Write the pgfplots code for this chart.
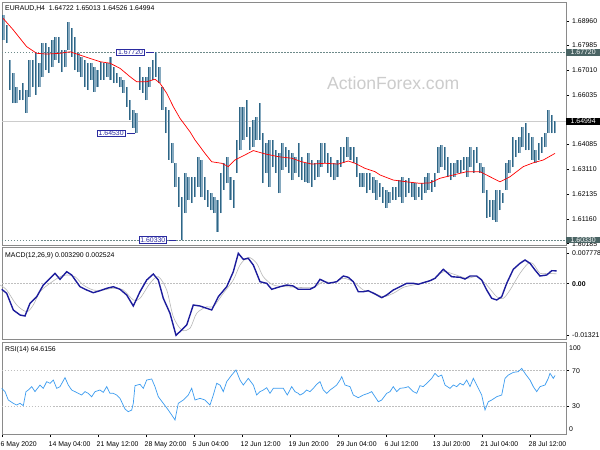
\documentclass[border=0pt]{standalone}
\usepackage{pgfplots}
\pgfplotsset{compat=1.18}
\usepackage{pgfplotstable}
\usepackage{fontspec}
\setmainfont{Liberation Sans}
\definecolor{cdark}{HTML}{2E6585}
\definecolor{clight}{HTML}{86A9BF}
\definecolor{lvl}{HTML}{6E8A8A}
\definecolor{lblbox}{HTML}{4A6464}
\definecolor{annot}{HTML}{2B2BA0}
\definecolor{macdc}{HTML}{1C1C9C}
\definecolor{rsic}{HTML}{3C9CF0}
\definecolor{frame}{HTML}{8A8A8A}
\newcommand{\sm}{\fontsize{6.9}{7.5}\selectfont}

\pgfplotstableread{
hi lo
1.6919 1.6820
1.6880 1.6809
1.6742 1.6624
1.6691 1.6572
1.6635 1.6572
1.6624 1.6584
1.6651 1.6584
1.6624 1.6533
1.6742 1.6596
1.6742 1.6635
1.6773 1.6604
1.6730 1.6635
1.6809 1.6675
1.6809 1.6702
1.6793 1.6691
1.6820 1.6714
1.6832 1.6742
1.6832 1.6730
1.6781 1.6694
1.6781 1.6714
1.6891 1.6781
1.6868 1.6754
1.6832 1.6702
1.6769 1.6694
1.6754 1.6675
1.6742 1.6635
1.6730 1.6624
1.6730 1.6663
1.6714 1.6616
1.6702 1.6635
1.6734 1.6663
1.6730 1.6663
1.6730 1.6675
1.6754 1.6663
1.6714 1.6651
1.6691 1.6651
1.6675 1.6635
1.6663 1.6612
1.6635 1.6557
1.6584 1.6506
1.6545 1.6474
1.6533 1.6453
1.6714 1.6624
1.6675 1.6612
1.6675 1.6584
1.6714 1.6635
1.6742 1.6663
1.6772 1.6675
1.6714 1.6651
1.6635 1.6545
1.6557 1.6454
1.6545 1.6348
1.6415 1.6336
1.6336 1.6242
1.6281 1.6163
1.6202 1.6033
1.6297 1.6139
1.6281 1.6191
1.6281 1.6179
1.6281 1.6202
1.6360 1.6242
1.6348 1.6202
1.6281 1.6191
1.6230 1.6163
1.6218 1.6151
1.6202 1.6139
1.6191 1.6065
1.6297 1.6139
1.6336 1.6230
1.6360 1.6257
1.6281 1.6191
1.6269 1.6159
1.6427 1.6297
1.6557 1.6387
1.6557 1.6427
1.6584 1.6439
1.6478 1.6387
1.6506 1.6399
1.6517 1.6427
1.6572 1.6427
1.6454 1.6257
1.6415 1.6297
1.6427 1.6242
1.6427 1.6320
1.6387 1.6297
1.6376 1.6218
1.6415 1.6309
1.6399 1.6320
1.6387 1.6297
1.6376 1.6269
1.6360 1.6297
1.6415 1.6281
1.6360 1.6269
1.6336 1.6261
1.6376 1.6257
1.6348 1.6242
1.6336 1.6269
1.6348 1.6281
1.6415 1.6320
1.6415 1.6336
1.6376 1.6297
1.6360 1.6281
1.6336 1.6269
1.6348 1.6281
1.6399 1.6320
1.6399 1.6336
1.6439 1.6360
1.6399 1.6348
1.6399 1.6336
1.6360 1.6281
1.6297 1.6242
1.6297 1.6242
1.6297 1.6218
1.6297 1.6230
1.6281 1.6218
1.6269 1.6191
1.6257 1.6202
1.6242 1.6179
1.6230 1.6159
1.6222 1.6179
1.6242 1.6191
1.6242 1.6191
1.6269 1.6202
1.6281 1.6179
1.6269 1.6202
1.6277 1.6218
1.6261 1.6202
1.6257 1.6191
1.6242 1.6202
1.6257 1.6191
1.6281 1.6218
1.6297 1.6230
1.6269 1.6222
1.6297 1.6242
1.6399 1.6297
1.6407 1.6320
1.6399 1.6309
1.6360 1.6281
1.6336 1.6269
1.6336 1.6281
1.6348 1.6297
1.6348 1.6297
1.6360 1.6309
1.6360 1.6281
1.6399 1.6320
1.6387 1.6297
1.6399 1.6336
1.6336 1.6297
1.6320 1.6218
1.6230 1.6120
1.6191 1.6124
1.6191 1.6112
1.6230 1.6104
1.6230 1.6151
1.6218 1.6179
1.6336 1.6230
1.6348 1.6297
1.6439 1.6320
1.6427 1.6360
1.6439 1.6376
1.6478 1.6399
1.6494 1.6387
1.6454 1.6387
1.6439 1.6348
1.6387 1.6336
1.6415 1.6348
1.6439 1.6376
1.6454 1.6399
1.6545 1.6454
1.6525 1.6454
1.6501 1.6453
}\candles

\pgfplotsset{panel/.style={
  scale only axis, width=564pt, xmin=2, xmax=566,
  axis line style={frame, line width=0.8pt},
  ytick pos=right, yticklabel pos=right,
  yticklabel style={font=\sm, anchor=west, inner sep=0pt, xshift=3pt},
  tick style={black, line width=0.5pt},
  major tick length=3pt, tick align=outside,
  scaled y ticks=false, scaled x ticks=false,
  clip=false,
}}

\begin{document}
\begin{tikzpicture}
\useasboundingbox (0,0) rectangle (600pt,-450pt);
\fill[white] (0,0) rectangle (600pt,-450pt);

% ---------- main price panel ----------
\begin{axis}[panel, at={(2pt,-2pt)}, anchor=north west, height=243pt,
  ymin=1.60133, ymax=1.6970, xtick=\empty,
  ytick={1.60185,1.61160,1.62135,1.63110,1.64085,1.66035,1.67010,1.67985,1.68960},
  yticklabels={1.60185,1.61160,1.62135,1.63110,1.64085,1.66035,1.67010,1.67985,1.68960},
  extra y ticks={1.65060}, extra y tick labels={}]
\node[anchor=base west, text=black!20, font=\fontsize{17.6}{20}\selectfont, inner sep=0pt] at (axis cs:327,1.6624) {ActionForex.com};
\addplot[black!20, line width=0.8pt, forget plot] coordinates {(2,1.64994) (566,1.64994)};
\addplot[lvl, line width=0.6pt, dash pattern=on 1.5pt off 1.5pt, forget plot] coordinates {(2,1.67720) (566,1.67720)};
\addplot[lvl, line width=0.6pt, dash pattern=on 1.5pt off 1.5pt, forget plot] coordinates {(2,1.60330) (566,1.60330)};
\addplot[draw=none, mark=none, forget plot,
  error bars/.cd, y dir=plus, y explicit, error mark=none,
  error bar style={draw=clight, line width=2.5pt}]
  table[x expr=3.7+3.243*\coordindex, y=lo, y error expr=\thisrow{hi}-\thisrow{lo}] \candles;
\addplot[draw=none, mark=none, forget plot,
  error bars/.cd, y dir=plus, y explicit, error mark=none,
  error bar style={draw=cdark, line width=1pt}]
  table[x expr=3.0+3.243*\coordindex, y=lo, y error expr=\thisrow{hi}-\thisrow{lo}] \candles;
\addplot[red, line width=0.7pt, mark=none] coordinates {
(3,1.6906) (13.3,1.6860) (26.7,1.6794) (36.7,1.6768) (46.7,1.6765) (60,1.6768) (70,1.6774) (80,1.6761) (90,1.6748) (100,1.6735) (110,1.6729) (120,1.6709) (130,1.6676) (136.7,1.6656) (146.7,1.6656) (155,1.6666) (160,1.6650) (166.7,1.6611) (173.3,1.6558) (180,1.6512) (190,1.6459) (195,1.6427) (205,1.6374) (211.7,1.6341) (221.7,1.6335) (228.3,1.6322) (235,1.6348) (245,1.6368) (253.3,1.6385) (265,1.6372) (278.3,1.6361) (291.7,1.6355) (301.7,1.6341) (311.7,1.6332) (325,1.6335) (338.3,1.6332) (348.3,1.6344) (355,1.6335) (365,1.6315) (375,1.6302) (380,1.6289) (393.3,1.6269) (406.7,1.6262) (420,1.6256) (430,1.6258) (440,1.6276) (453.3,1.6289) (466.7,1.6302) (480,1.6302) (490,1.6282) (500,1.6262) (510,1.6282) (523.3,1.6322) (533.3,1.6337) (543.3,1.6348) (555,1.6374)};
% annotations
\draw[annot, line width=0.6pt] (axis cs:146,1.6772) -- (axis cs:154,1.6772);
\draw[annot, line width=0.6pt] (axis cs:127,1.6453) -- (axis cs:134.7,1.6453);
\draw[annot, line width=0.6pt] (axis cs:169,1.6033) -- (axis cs:175.7,1.6033);
\node[draw=annot, fill=white, text=annot, font=\sm, inner xsep=1.5pt, inner ysep=1pt, line width=0.6pt] at (axis cs:130.5,1.6772) {1.67720};
\node[draw=annot, fill=white, text=annot, font=\sm, inner xsep=1.5pt, inner ysep=1pt, line width=0.6pt] at (axis cs:111.2,1.6453) {1.64530};
\node[draw=annot, fill=white, text=annot, font=\sm, inner xsep=1.5pt, inner ysep=1pt, line width=0.6pt] at (axis cs:152.8,1.6033) {1.60330};
% right price boxes
\node[fill=lblbox, text=white, font=\sm, anchor=west, inner xsep=2.5pt, inner ysep=1pt, minimum width=34pt] at (axis cs:566,1.67720) {1.67720};
\node[fill=black, text=white, font=\sm, anchor=west, inner xsep=2.5pt, inner ysep=1pt, minimum width=34pt] at (axis cs:566,1.64994) {1.64994};
\node[fill=lblbox, text=white, font=\sm, anchor=west, inner xsep=2.5pt, inner ysep=1pt, minimum width=34pt] at (axis cs:566,1.60330) {1.60330};
\end{axis}
\node[anchor=base west, font=\sm, inner sep=0pt] at (5pt,-10pt) {EURAUD,H4\ \ 1.64722 1.65013 1.64526 1.64994};

% ---------- MACD panel ----------
\begin{axis}[panel, at={(2pt,-247pt)}, anchor=north west, height=92pt,
  ymin=-0.01416, ymax=0.0094, xtick=\empty,
  ytick={-0.01321,0,0.007778}, yticklabels={-0.01321,\textbf{0.00},0.007778}]
\addplot[black!25, line width=0.5pt, dash pattern=on 1.5pt off 1.5pt, forget plot] coordinates {(2,0) (566,0)};
\addplot[black!28, line width=0.6pt, smooth, mark=none] coordinates {
(0,-0.00033) (6.7,-0.00161) (16.7,-0.00545) (26.7,-0.00716) (33.3,-0.00545) (40,-0.00205) (50,0.00010) (60,0.00179) (66.7,0.00223) (75,0.00179) (83.3,-0.00033) (93.3,-0.00161) (103.3,-0.00161) (113.3,-0.00118) (123.3,-0.00161) (133.3,-0.00417) (140,-0.00374) (150,0.00010) (158.3,0.00179) (166.7,-0.00161) (173.3,-0.00845) (181.7,-0.01185) (190,-0.01142) (196.7,-0.00758) (206.7,-0.00589) (213.3,-0.00589) (223.3,-0.00246) (233.3,0.00095) (240,0.00479) (248.3,0.00676) (256.7,0.00522) (263.3,0.00179) (273.3,-0.00033) (286.7,-0.00077) (298.3,-0.00094) (313.3,-0.00094) (323.3,0.00051) (333.3,0.00026) (343.3,0.00138) (353.3,0.00051) (363.3,-0.00161) (373.3,-0.00230) (383.3,-0.00333) (393.3,-0.00246) (403.3,-0.00094) (413.3,-0.00033) (423.3,0.00026) (433.3,0.00113) (443.3,0.00307) (453.3,0.00248) (466.7,0.00138) (476.7,0.00179) (486.7,-0.00033) (496.7,-0.00333) (503.3,-0.00374) (510,-0.00161) (520,0.00266) (528.3,0.00522) (533.3,0.00505) (540,0.00266) (546.7,0.00266) (556.7,0.00252)};
\addplot[macdc, line width=1.4pt, mark=none] coordinates {
(1.7,-0.00143) (6.7,-0.00246) (13.3,-0.00673) (20,-0.00801) (25,-0.00827) (30,-0.00502) (36.7,-0.00333) (43.3,-0.00033) (50,0.00138) (55,0.00266) (60,0.00113) (66.7,0.00307) (71.7,0.00223) (80,-0.00077) (86.7,-0.00161) (93.3,-0.00230) (100,-0.00179) (106.7,-0.00118) (113.3,-0.00077) (120,-0.00143) (126.7,-0.00289) (133.3,-0.00571) (140,-0.00205) (146.7,0.00095) (153.3,0.00248) (158.3,0.00095) (163.3,-0.00374) (170,-0.00758) (176,-0.01321) (181.7,-0.01185) (186.7,-0.01057) (193.3,-0.00545) (200,-0.00571) (206.7,-0.00630) (211.7,-0.00673) (218.3,-0.00333) (226.7,-0.00077) (233.3,0.00307) (238.3,0.00778) (243.3,0.00624) (248.3,0.00650) (253.3,0.00479) (260,0.00051) (266.7,0.00010) (271.7,-0.00143) (280,-0.00077) (286.7,-0.00033) (293.3,-0.00059) (298.3,-0.00143) (310,-0.00143) (315,-0.00077) (320,0.00113) (325,0.00051) (328.3,0.00010) (336.7,0.00051) (343.3,0.00197) (348.3,0.00164) (353.3,0.00051) (358.3,-0.00205) (363.3,-0.00205) (368.3,-0.00179) (375,-0.00264) (381.7,-0.00358) (386.7,-0.00289) (393.3,-0.00161) (400,-0.00077) (406.7,0.00010) (413.3,0.00010) (418.3,-0.00015) (423.3,0.00026) (430,0.00077) (435,0.00138) (443.3,0.00369) (451.7,0.00179) (460,0.00164) (465,0.00120) (470,0.00197) (476.7,0.00197) (481.7,0.00095) (486.7,-0.00161) (491.7,-0.00374) (496.7,-0.00417) (501.7,-0.00333) (506.7,0.00010) (513.3,0.00369) (520,0.00522) (525,0.00607) (530,0.00522) (535,0.00351) (540,0.00197) (546.7,0.00223) (551.7,0.00333) (556.7,0.00329)};
\end{axis}
\node[anchor=base west, font=\sm, inner sep=0pt] at (5pt,-257pt) {MACD(12,26,9) 0.003290 0.002524};

% ---------- RSI panel ----------
\begin{axis}[panel, at={(2pt,-342.3pt)}, anchor=north west, height=91.7pt,
  ymin=-1, ymax=101.8,
  ytick={30,70}, yticklabels={30,70},
  xtick={2,50,98,146,194,242,290,338,386,434,482,530},
  xticklabels={6 May 2020,14 May 04:00,21 May 12:00,28 May 20:00,5 Jun 04:00,12 Jun 12:00,19 Jun 20:00,29 Jun 04:00,6 Jul 12:00,13 Jul 20:00,21 Jul 04:00,28 Jul 12:00},
  xtick pos=bottom,
  xticklabel style={font=\sm, anchor=north west, inner sep=0pt, xshift=-1.5pt, yshift=-4pt}]
\addplot[black!25, line width=0.5pt, dash pattern=on 1.5pt off 1.5pt, forget plot] coordinates {(2,70) (566,70)};
\addplot[black!25, line width=0.5pt, dash pattern=on 1.5pt off 1.5pt, forget plot] coordinates {(2,30) (566,30)};
\addplot[rsic, line width=0.7pt, mark=none] coordinates {
(1.7,50.2) (5,46.5) (8.3,37.1) (13.3,33.4) (16.7,31.5) (20,33.4) (23.3,30.8) (26,46.5) (28.3,48.3) (31.7,52.1) (35,46.5) (40,53.9) (43.3,50.2) (46.7,57.7) (50,55.8) (53.3,59.5) (56.7,50.2) (60,52.1) (65,62.2) (68.3,53.9) (71.7,48.3) (75,46.5) (78.3,44.6) (81.7,42.7) (85,46.5) (88.3,44.6) (91.7,40.8) (95,46.5) (100,48.3) (103.3,45.7) (106.7,52.1) (110,44.6) (113.3,44.6) (116.7,42.7) (120,39.0) (125,27.0) (128.3,24.0) (131.7,25.9) (133.3,33.4) (135,53.2) (140,54.7) (143.3,50.2) (146.7,59.5) (151.7,60.7) (155,52.1) (158.3,40.8) (163.3,33.4) (168.3,25.9) (171.7,20.3) (175,14.7) (178.3,33.4) (183.3,37.1) (188.3,42.7) (191.7,50.2) (195,37.1) (200,39.0) (205,37.1) (210,31.5) (213.3,42.7) (216.7,55.8) (220,53.9) (223.3,46.5) (226.7,57.7) (231.7,65.1) (236,70.8) (240,59.5) (243.3,53.9) (248.3,61.4) (253.3,53.9) (256.7,42.7) (260,46.5) (263.3,48.3) (266.7,50.9) (270,44.6) (273.3,50.2) (278.3,50.2) (283.3,50.2) (287.3,42.7) (291.7,52.1) (295,46.5) (298.3,44.6)
(300,42.7) (303.3,44.6) (306.7,48.3) (310,46.5) (313.3,50.2) (316.7,54.7) (320,57.7) (323.3,48.3) (326.7,44.6) (330,48.3) (333.3,50.9) (336.7,53.9) (340,59.5) (341.7,63.3) (345,53.9) (350,52.1) (353.3,42.7) (358.3,39.7) (363.3,42.7) (368.3,44.6) (371.7,46.5) (375,40.8) (378.3,35.2) (381.7,37.1) (386.7,44.6) (390,46.5) (393.3,52.1) (396.7,46.5) (400,50.2) (405,50.9) (408.3,52.1) (413.3,46.5) (416.7,44.6) (420,53.2) (423.3,52.1) (426.7,55.8) (431.7,61.4) (435,67.0) (438.3,63.3) (441.7,65.1) (445,53.9) (450,50.2) (453.3,53.9) (456.7,52.1) (460,55.8) (463.3,53.9) (466.7,59.5) (470,52.1) (473.3,61.4) (476.7,53.9) (481.7,42.7) (485,25.9) (488.3,35.2) (491.7,37.1) (496.7,40.8) (501.7,42.7) (505,61.4) (508.3,65.1) (513.3,68.1) (518.3,68.9) (521.7,72.6) (525,67.0) (530,59.5) (533.3,52.1) (536.7,46.5) (540,52.1) (545,53.9) (548.3,61.4) (550,67.0) (553.3,61.4) (555,64.6)};
\node[font=\sm, anchor=west, inner sep=0pt] at (axis cs:569,95.7) {100};
\node[font=\sm, anchor=west, inner sep=0pt] at (axis cs:569,4.5) {0};
\end{axis}
\node[anchor=base west, font=\sm, inner sep=0pt] at (5pt,-351.5pt) {RSI(14) 64.6156};
\end{tikzpicture}
\end{document}
